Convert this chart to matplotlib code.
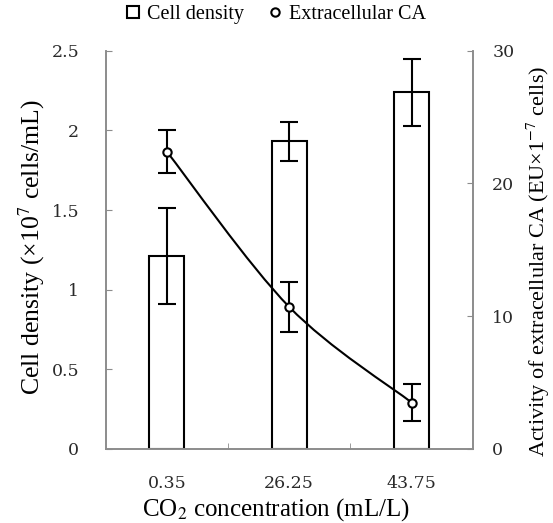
import numpy as np
import matplotlib
matplotlib.use("Agg")
import matplotlib.pyplot as plt
from matplotlib.path import Path
from matplotlib.patches import PathPatch
from matplotlib.lines import Line2D

plt.rcParams['font.family'] = ['Liberation Serif', 'DejaVu Serif']
plt.rcParams['mathtext.fontset'] = 'stix'

co2_labels = ['0.35', '26.25', '43.75']
cell_density = [1.21, 1.93, 2.24]
cell_density_err = [0.30, 0.12, 0.21]
ext_ca = [22.4, 10.7, 3.5]
ext_ca_err = [1.65, 1.9, 1.4]

gray = '#8c8c8c'
x = np.arange(len(co2_labels))

fig = plt.figure(figsize=(5.53, 5.23), dpi=100)
ax = fig.add_axes([0.191, 0.1415, 0.664, 0.7616])
ax2 = ax.twinx()

ax.bar(x, cell_density, width=0.285, color='white', edgecolor='black', linewidth=1.5)
ax.errorbar(x, cell_density, yerr=cell_density_err, fmt='none', ecolor='black',
            elinewidth=1.5, capsize=6.5, capthick=1.5)

# smoothed line (bezier through the points, like a spreadsheet smooth line)
pts = np.column_stack([x, ext_ca]).astype(float)
verts = [pts[0]]
codes = [Path.MOVETO]
n = len(pts)
for i in range(n - 1):
    p_prev = pts[max(i - 1, 0)]
    p_next2 = pts[min(i + 2, n - 1)]
    c1 = pts[i] + (pts[i + 1] - p_prev) / 6
    c2 = pts[i + 1] - (p_next2 - pts[i]) / 6
    verts += [c1, c2, pts[i + 1]]
    codes += [Path.CURVE4] * 3
ax2.add_patch(PathPatch(Path(verts, codes), facecolor='none', edgecolor='black', lw=1.5))
ax2.errorbar(x, ext_ca, yerr=ext_ca_err, fmt='o', color='black', mfc='white', mec='black',
             ms=6, mew=1.5, ecolor='black', elinewidth=1.5, capsize=6.5, capthick=1.5, zorder=3)

ax.set_xlim(-0.5, 2.5)
ax.set_ylim(0, 2.5)
ax2.set_ylim(0, 30)
ax.set_yticks([0, 0.5, 1, 1.5, 2, 2.5])
ax.set_yticklabels(['0', '0.5', '1', '1.5', '2', '2.5'])
ax2.set_yticks([0, 10, 20, 30])
ax.set_xticks(x)
ax.set_xticklabels(co2_labels)
ax.set_xticks([0.5, 1.5], minor=True)

for a in (ax, ax2):
    for s in a.spines.values():
        s.set_color(gray)
        s.set_linewidth(1.2)
    a.spines['top'].set_visible(False)

ax.tick_params(axis='y', direction='in', length=4, color=gray, pad=19, labelsize=12.5)
ax2.tick_params(axis='y', direction='in', length=4, color=gray, pad=14, labelsize=12.5)
ax.tick_params(axis='x', which='major', length=0, pad=19, labelsize=12.5)
ax.tick_params(axis='x', which='minor', direction='in', length=4, color=gray)
for lab in ax.get_xticklabels() + ax.get_yticklabels() + ax2.get_yticklabels():
    lab.set_fontfamily('DejaVu Serif')
    lab.set_color('#2a2a2a')

fig.text(0.058, 0.528, 'Cell density (×10$^{7}$ cells/mL)', rotation=90, ha='center', va='center', fontsize=18.5)
fig.text(0.974, 0.5, 'Activity of extracellular CA (EU×1$^{-7}$ cells)', rotation=90,
         ha='center', va='center', fontsize=16)
fig.text(0.5, 0.025, 'CO$_2$ concentration (mL/L)', ha='center', va='center', fontsize=18)

handles = [Line2D([], [], marker='s', ls='none', mfc='white', mec='black', ms=9, mew=1.5),
           Line2D([], [], marker='o', ls='none', mfc='white', mec='black', ms=6, mew=1.5)]
fig.legend(handles, ['Cell density', 'Extracellular CA'], loc='center', bbox_to_anchor=(0.5, 0.973),
           ncol=2, frameon=False, fontsize=14.5, handlelength=0.6, handletextpad=0.4, columnspacing=1.2)

fig.savefig('out.png', dpi=100)
